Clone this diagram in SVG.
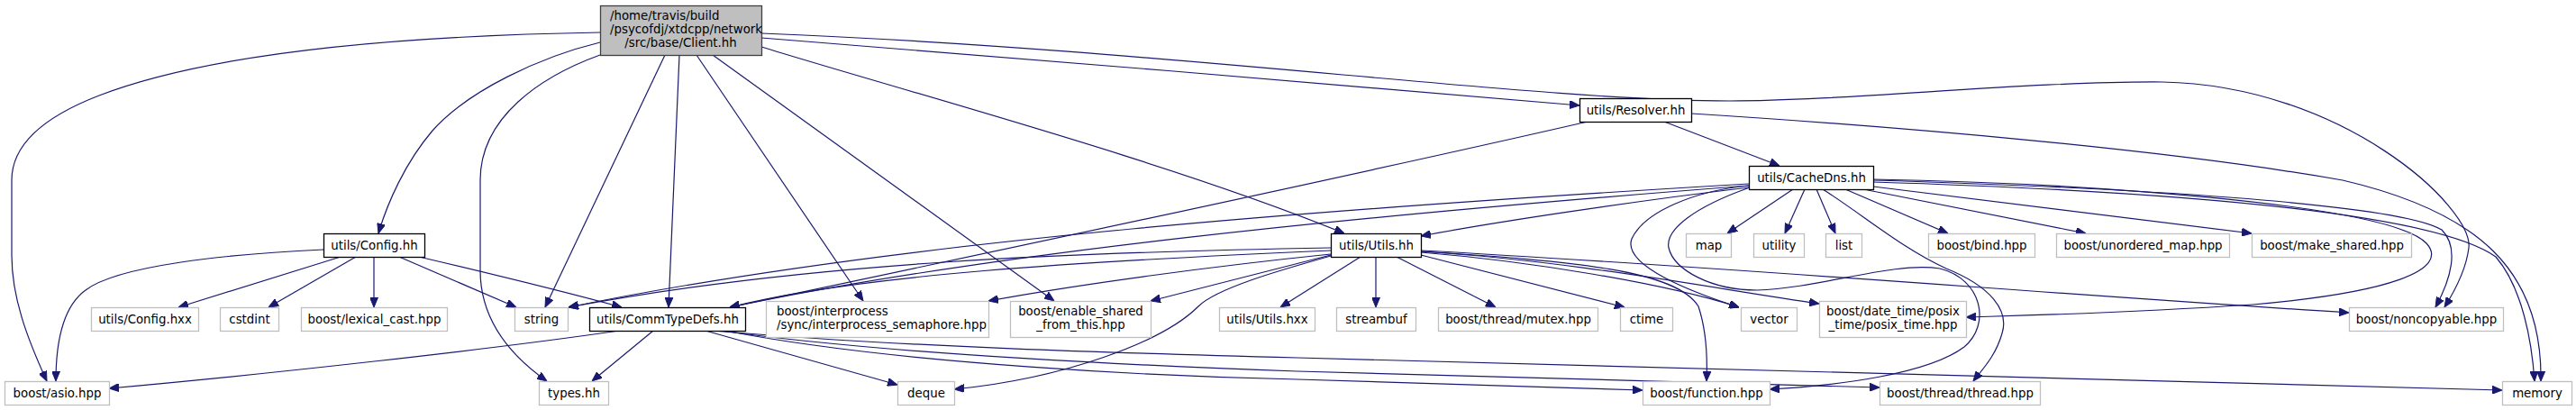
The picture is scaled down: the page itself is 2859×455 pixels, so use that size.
<svg xmlns="http://www.w3.org/2000/svg" width="2859" height="455" viewBox="0 0 2859 455">
<style>
.n rect{fill:#fff;stroke:#bfbfbf;stroke-width:1.3}
.p rect{fill:#fff;stroke:#000;stroke-width:1.3}
.r rect{fill:#bfbfbf;stroke:#404040;stroke-width:1.3}
text{font-family:"DejaVu Sans","Liberation Sans",sans-serif;font-size:13.33px;fill:#000}
.c{text-anchor:middle}
#edges path{fill:none;stroke:#191970;stroke-width:1.2;marker-end:url(#a)}
</style>
<defs>
<marker id="a" markerWidth="11" markerHeight="9" refX="11" refY="4.5" orient="auto" markerUnits="userSpaceOnUse"><path d="M0,0 L11,4.5 L0,9 z" fill="#191970" stroke="#191970" stroke-width="1"/></marker>
</defs>
<rect width="2859" height="455" fill="#fff"/>
<g id="edges">
<path d="M666,36 C430,40 230,60 110,106 C40,133 13,165 13,200 L13,283 C13,330 30,375 52,423"/>
<path d="M666,47 C600,63 520,100 480,145 C450,180 430,225 420,259"/>
<path d="M666,61 C600,85 533,130 533,200 L533,300 C533,350 560,390 607,423"/>
<path d="M738,61 L605,341"/>
<path d="M754,61 L742,341"/>
<path d="M773,61 L958,334"/>
<path d="M791,61 L1170,334"/>
<path d="M845,52 C1000,100 1300,180 1492,259"/>
<path d="M845,42 C1100,62 1500,95 1753,117"/>
<path d="M845,37 C1300,55 1700,112 1920,112 C2050,112 2250,90 2400,91 C2600,95 2745,230 2740,275 C2737,300 2725,322 2713,341"/>
<path d="M359,277 C250,282 130,295 95,322 C70,340 62,380 62,423"/>
<path d="M378,285 L198,341"/>
<path d="M395,285 L298,341"/>
<path d="M415,285 L415,341"/>
<path d="M443,285 L573,341"/>
<path d="M465,285 C550,305 620,322 690,341"/>
<path d="M687,367 C550,387 300,415 121,431"/>
<path d="M725,367 L657,423"/>
<path d="M783,367 L996,427"/>
<path d="M792,367 C1000,385 1250,392 1440,397 L2777,433"/>
<path d="M800,367 C1000,395 1300,407 1440,412 L2086,430"/>
<path d="M805,367 C1000,405 1300,418 1440,421 L1823,433"/>
<path d="M1762,135 C1500,195 1100,280 810,341"/>
<path d="M1847,135 L1975,184"/>
<path d="M1877,126 C2100,140 2400,165 2600,200 C2750,235 2822,300 2820,423"/>
<path d="M1990,210 L1917,259"/>
<path d="M2003,210 L1981,259"/>
<path d="M2016,210 L2037,259"/>
<path d="M2048,210 L2162,259"/>
<path d="M2068,210 L2315,259"/>
<path d="M2079,207 L2499,259"/>
<path d="M2079,199 C2300,203 2650,225 2693,270 C2720,300 2650,325 2500,338 C2350,348 2250,350 2182,352"/>
<path d="M2079,200 C2350,208 2660,225 2710,255 C2730,275 2720,310 2703,341"/>
<path d="M2079,202 C2400,212 2700,235 2770,285 C2800,320 2810,380 2813,423"/>
<path d="M2023,210 C2070,240 2110,275 2160,298 C2210,318 2230,345 2222,370 C2215,395 2200,410 2190,423"/>
<path d="M1942,208 C1880,230 1848,255 1852,275 C1858,300 1900,322 1950,322 C2020,320 2100,290 2153,298 C2200,310 2210,360 2180,385 C2140,415 2040,428 1964,432"/>
<path d="M1941,206 C1880,212 1825,235 1811,265 C1800,295 1880,325 1930,341"/>
<path d="M1941,204 C1500,230 1000,265 631,341"/>
<path d="M1941,206 C1500,240 1100,280 810,341"/>
<path d="M1941,208 C1800,225 1650,248 1577,262"/>
<path d="M1477,275 C1200,280 900,290 631,341"/>
<path d="M1477,278 C1200,290 950,305 810,341"/>
<path d="M1477,282 C1350,295 1200,315 1097,334"/>
<path d="M1477,283 L1277,334"/>
<path d="M1477,284 C1420,300 1350,320 1330,340 C1290,380 1180,420 1059,432"/>
<path d="M1510,285 L1421,341"/>
<path d="M1527,285 L1527,341"/>
<path d="M1550,285 L1660,341"/>
<path d="M1577,283 L1803,341"/>
<path d="M1577,280 C1700,290 1850,315 1930,341"/>
<path d="M1577,279 C1750,290 1900,320 2019,337"/>
<path d="M1577,279 C1750,290 1860,300 1885,340 C1895,370 1895,400 1894,423"/>
<path d="M1577,278 C1900,295 2300,328 2607,347"/>
</g>
<g id="client" class="r"><rect x="666.5" y="6.5" width="179" height="55"/><text x="677" y="22">/home/travis/build</text><text x="677" y="37">/psycofdj/xtdcpp/network</text><text x="755.5" y="52" class="c">/src/base/Client.hh</text></g>
<g id="config_hh" class="p"><rect x="359.5" y="259.5" width="112" height="26"/><text x="415.5" y="277" class="c">utils/Config.hh</text></g>
<g id="config_hxx" class="n"><rect x="101.5" y="341.5" width="119" height="26"/><text x="161" y="359" class="c">utils/Config.hxx</text></g>
<g id="cstdint" class="n"><rect x="244.5" y="341.5" width="65" height="26"/><text x="277" y="359" class="c">cstdint</text></g>
<g id="lexical_cast" class="n"><rect x="334.5" y="341.5" width="162" height="26"/><text x="415.5" y="359" class="c">boost/lexical_cast.hpp</text></g>
<g id="asio" class="n"><rect x="5.5" y="423.5" width="116" height="26"/><text x="63.5" y="441" class="c">boost/asio.hpp</text></g>
<g id="string" class="n"><rect x="571.5" y="341.5" width="59" height="26"/><text x="601" y="359" class="c">string</text></g>
<g id="commtypedefs" class="p"><rect x="654.5" y="341.5" width="173" height="26"/><text x="741" y="359" class="c">utils/CommTypeDefs.hh</text></g>
<g id="interprocess" class="n"><rect x="850.5" y="334.5" width="247" height="40"/><text x="862" y="350">boost/interprocess</text><text x="862" y="365">/sync/interprocess_semaphore.hpp</text></g>
<g id="enable_shared" class="n"><rect x="1121.5" y="334.5" width="156" height="40"/><text x="1199.5" y="350" class="c">boost/enable_shared</text><text x="1199.5" y="365" class="c">_from_this.hpp</text></g>
<g id="types" class="n"><rect x="598.5" y="423.5" width="77" height="26"/><text x="637" y="441" class="c">types.hh</text></g>
<g id="deque" class="n"><rect x="996.5" y="423.5" width="63" height="26"/><text x="1028" y="441" class="c">deque</text></g>
<g id="utils_hxx" class="n"><rect x="1353.5" y="341.5" width="106" height="26"/><text x="1406.5" y="359" class="c">utils/Utils.hxx</text></g>
<g id="resolver" class="p"><rect x="1753.5" y="109.5" width="124" height="26"/><text x="1815.5" y="127" class="c">utils/Resolver.hh</text></g>
<g id="utils_hh" class="p"><rect x="1477.5" y="259.5" width="100" height="26"/><text x="1527.5" y="277" class="c">utils/Utils.hh</text></g>
<g id="streambuf" class="n"><rect x="1483.5" y="341.5" width="88" height="26"/><text x="1527.5" y="359" class="c">streambuf</text></g>
<g id="mutex" class="n"><rect x="1596.5" y="341.5" width="177" height="26"/><text x="1685" y="359" class="c">boost/thread/mutex.hpp</text></g>
<g id="ctime" class="n"><rect x="1798.5" y="341.5" width="58" height="26"/><text x="1827.5" y="359" class="c">ctime</text></g>
<g id="map" class="n"><rect x="1871.5" y="259.5" width="50" height="26"/><text x="1896.5" y="277" class="c">map</text></g>
<g id="function" class="n"><rect x="1823.5" y="423.5" width="141" height="26"/><text x="1894" y="441" class="c">boost/function.hpp</text></g>
<g id="cachedns" class="p"><rect x="1941.5" y="184.5" width="138" height="26"/><text x="2010.5" y="202" class="c">utils/CacheDns.hh</text></g>
<g id="utility" class="n"><rect x="1946.5" y="259.5" width="56" height="26"/><text x="1974.5" y="277" class="c">utility</text></g>
<g id="list" class="n"><rect x="2026.5" y="259.5" width="40" height="26"/><text x="2046.5" y="277" class="c">list</text></g>
<g id="bind" class="n"><rect x="2140.5" y="259.5" width="118" height="26"/><text x="2199.5" y="277" class="c">boost/bind.hpp</text></g>
<g id="unordered_map" class="n"><rect x="2282.5" y="259.5" width="192" height="26"/><text x="2378.5" y="277" class="c">boost/unordered_map.hpp</text></g>
<g id="vector" class="n"><rect x="1932.5" y="341.5" width="62" height="26"/><text x="1963.5" y="359" class="c">vector</text></g>
<g id="posix_time" class="n"><rect x="2019.5" y="334.5" width="163" height="40"/><text x="2101" y="350" class="c">boost/date_time/posix</text><text x="2101" y="365" class="c">_time/posix_time.hpp</text></g>
<g id="thread" class="n"><rect x="2086.5" y="423.5" width="178" height="26"/><text x="2175.5" y="441" class="c">boost/thread/thread.hpp</text></g>
<g id="make_shared" class="n"><rect x="2499.5" y="259.5" width="177" height="26"/><text x="2588" y="277" class="c">boost/make_shared.hpp</text></g>
<g id="noncopyable" class="n"><rect x="2607.5" y="341.5" width="171" height="26"/><text x="2693" y="359" class="c">boost/noncopyable.hpp</text></g>
<g id="memory" class="n"><rect x="2777.5" y="423.5" width="77" height="26"/><text x="2816" y="441" class="c">memory</text></g>
</svg>
